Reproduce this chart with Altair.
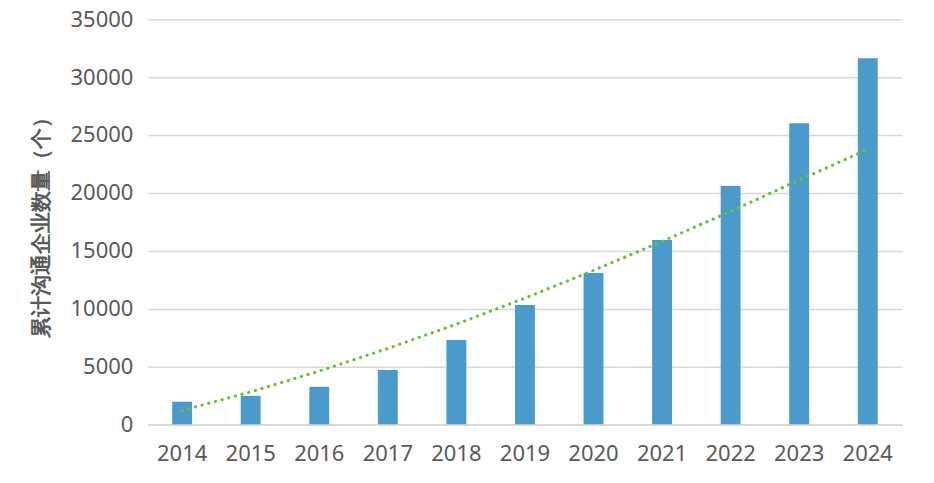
import altair as alt
import pandas as pd

years = ["2014", "2015", "2016", "2017", "2018", "2019", "2020", "2021", "2022", "2023", "2024"]
counts = [1950, 2460, 3240, 4700, 7290, 10310, 13080, 15920, 20590, 26020, 31630]
trend = [1190, 2800, 4600, 6550, 8650, 10900, 13300, 15800, 18400, 21100, 23750]
y_ticks = [0, 5000, 10000, 15000, 20000, 25000, 30000, 35000]

df = pd.DataFrame({"year": years, "count": counts, "trend": trend})

FONT = "Noto Sans"
x_enc = alt.X("year:O", sort=years, title=None,
              scale=alt.Scale(paddingInner=0.71, paddingOuter=0.355),
              axis=alt.Axis(labelAngle=0, grid=False, domain=True))
y_enc = alt.Y("count:Q", scale=alt.Scale(domain=[0, 35000], nice=False),
              title="累计沟通企业数量（个）",
              axis=alt.Axis(values=y_ticks, format="d", domain=False, grid=True))

bars = alt.Chart(df).mark_bar(color="#4a9bcb").encode(x=x_enc, y=y_enc)

line = alt.Chart(df).mark_line(color="#6dbf3a", strokeWidth=3.2, strokeDash=[0.1, 6.8],
                               strokeCap="round").encode(
    x=alt.X("year:O", sort=years, title=None),
    y=alt.Y("trend:Q", title="累计沟通企业数量（个）"),
)

chart = alt.layer(bars, line).properties(
    width=755, height=405.5,
    background="white",
    autosize=alt.AutoSizeParams(type="none"),
    padding={"left": 140, "top": 11, "right": 24, "bottom": 50},
).configure_view(strokeWidth=0).configure_axis(
    labelFontSize=22, labelFont=FONT, labelColor="#595959", ticks=False,
    domainColor="#d9d9d9", domainWidth=1.5, gridColor="#d9d9d9", gridWidth=1.5,
    titleFontSize=21, titleFont=FONT, titleFontWeight="bold", titleColor="#595959",
).configure_axisX(labelPadding=19).configure_axisY(labelPadding=15, titlePadding=19)

chart.save("out.html", embed_options={"renderer": "svg", "actions": False})
